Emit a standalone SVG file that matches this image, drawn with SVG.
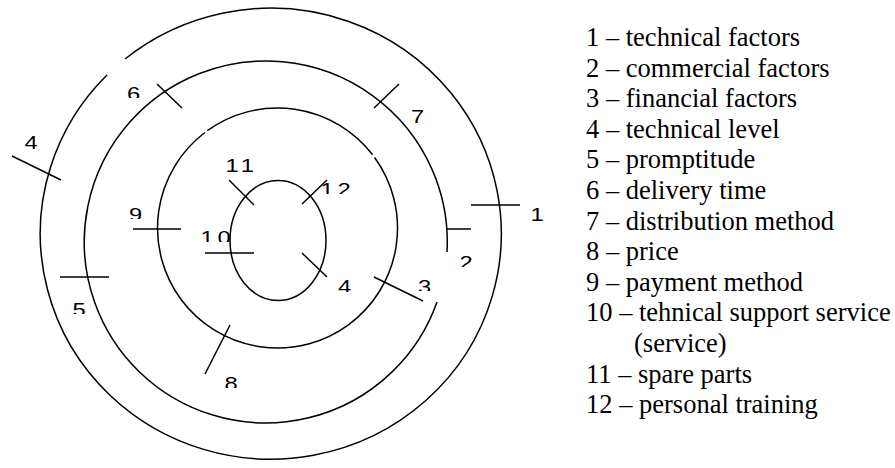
<svg xmlns="http://www.w3.org/2000/svg" width="895" height="468" viewBox="0 0 895 468">
<style>
.ln{fill:none;stroke:#000;stroke-width:1.5}
.lbl{font-family:"Liberation Sans",Arial,sans-serif;font-size:19px;letter-spacing:3px;fill:#000}
.lg{font-family:"Liberation Serif","Times New Roman",serif;font-size:26.5px;fill:#000}
</style>
<defs>
<clipPath id="c6" clipPathUnits="userSpaceOnUse"><rect x="115" y="70" width="40" height="28"/></clipPath>
<clipPath id="c9" clipPathUnits="userSpaceOnUse"><rect x="120" y="195" width="40" height="24"/></clipPath>
<clipPath id="c10" clipPathUnits="userSpaceOnUse"><rect x="195" y="215" width="50" height="27"/></clipPath>
<clipPath id="c12" clipPathUnits="userSpaceOnUse"><rect x="315" y="170" width="50" height="24"/></clipPath>
<clipPath id="c2" clipPathUnits="userSpaceOnUse"><rect x="452" y="243" width="40" height="24"/></clipPath>
<clipPath id="c3" clipPathUnits="userSpaceOnUse"><rect x="410" y="267" width="40" height="24"/></clipPath>
<clipPath id="c4i" clipPathUnits="userSpaceOnUse"><rect x="330" y="267" width="40" height="25"/></clipPath>
<clipPath id="c5" clipPathUnits="userSpaceOnUse"><rect x="65" y="290" width="40" height="24"/></clipPath>
<clipPath id="c8" clipPathUnits="userSpaceOnUse"><rect x="215" y="362" width="40" height="26"/></clipPath>
</defs>
<rect width="895" height="468" fill="#fff"/>
<g id="rings">
<path id="ring-outer" class="ln" d="M125 59 A230.5 225.5 0 1 1 107 75"/>
<path id="ring-second" class="ln" d="M437 302 A181.5 181 0 1 1 447 252"/>
<path id="ring-third" class="ln" d="M207.3 130.7 A120 120 0 0 1 372.6 154.8 M374.6 157.5 A120 120 0 1 1 204.9 132.5"/>
<ellipse id="ring-inner" class="ln" cx="278" cy="240.5" rx="48" ry="60"/>
</g>
<g id="connectors">
<line class="ln" x1="12" y1="156" x2="61" y2="180"/>
<line class="ln" x1="157" y1="84" x2="182" y2="108"/>
<line class="ln" x1="133" y1="229" x2="181" y2="229"/>
<line class="ln" x1="229" y1="180" x2="254" y2="205"/>
<line class="ln" x1="205" y1="253" x2="254" y2="253"/>
<line class="ln" x1="60" y1="277" x2="109" y2="277"/>
<line class="ln" x1="205" y1="374" x2="230" y2="325"/>
<line class="ln" x1="302" y1="204" x2="327" y2="180"/>
<line class="ln" x1="374" y1="108" x2="399" y2="84"/>
<line class="ln" x1="471" y1="205" x2="520" y2="205"/>
<line class="ln" x1="447" y1="229" x2="471" y2="229"/>
<line class="ln" x1="374" y1="277" x2="423" y2="301"/>
<line class="ln" x1="302" y1="253" x2="327" y2="277"/>
</g>
<g id="label-4-outer"><text class="lbl" transform="translate(24.4,148.6) scale(1.25,1)">4</text></g>
<g id="label-6" clip-path="url(#c6)"><text class="lbl" transform="translate(127,99.6) scale(1.25,1)">6</text></g>
<g id="label-9" clip-path="url(#c9)"><text class="lbl" transform="translate(129,220.6) scale(1.25,1)">9</text></g>
<g id="label-11"><text class="lbl" transform="translate(225.5,171.6) scale(1.25,1)">11</text></g>
<g id="label-10" clip-path="url(#c10)"><text class="lbl" transform="translate(200.5,243.6) scale(1.25,1)">10</text></g>
<g id="label-12" clip-path="url(#c12)"><text class="lbl" transform="translate(320.5,195.6) scale(1.25,1)">12</text></g>
<g id="label-7"><text class="lbl" transform="translate(411,123) scale(1.25,1)">7</text></g>
<g id="label-1"><text class="lbl" transform="translate(530.5,220.6) scale(1.25,1)">1</text></g>
<g id="label-2" clip-path="url(#c2)"><text class="lbl" transform="translate(459.5,268.6) scale(1.25,1)">2</text></g>
<g id="label-3" clip-path="url(#c3)"><text class="lbl" transform="translate(418,292.6) scale(1.25,1)">3</text></g>
<g id="label-4-inner" clip-path="url(#c4i)"><text class="lbl" transform="translate(338,292.6) scale(1.25,1)">4</text></g>
<g id="label-5" clip-path="url(#c5)"><text class="lbl" transform="translate(72.5,315.6) scale(1.25,1)">5</text></g>
<g id="label-8" clip-path="url(#c8)"><text class="lbl" transform="translate(224.5,389.6) scale(1.25,1)">8</text></g>
<g id="legend">
<text class="lg" x="586" y="46">1 – technical factors</text>
<text class="lg" x="586" y="76.6">2 – commercial factors</text>
<text class="lg" x="586" y="107.2">3 – financial factors</text>
<text class="lg" x="586" y="137.8">4 – technical level</text>
<text class="lg" x="586" y="168.4">5 – promptitude</text>
<text class="lg" x="586" y="199">6 – delivery time</text>
<text class="lg" x="586" y="229.6">7 – distribution method</text>
<text class="lg" x="586" y="260.2">8 – price</text>
<text class="lg" x="586" y="290.8">9 – payment method</text>
<text class="lg" x="586" y="321.4">10 – tehnical support service</text>
<text class="lg" x="634" y="352">(service)</text>
<text class="lg" x="586" y="382.6">11 – spare parts</text>
<text class="lg" x="586" y="413.2">12 – personal training</text>
</g>
</svg>
